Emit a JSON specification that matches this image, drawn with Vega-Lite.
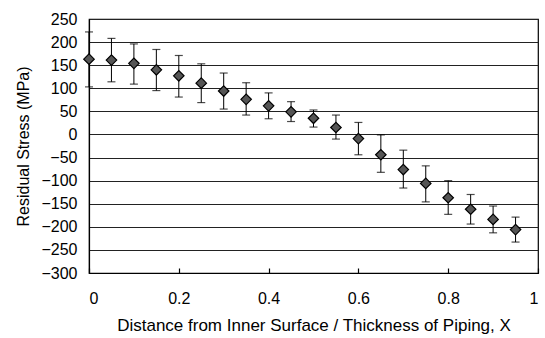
{
  "$schema": "https://vega.github.io/schema/vega-lite/v6.json",
  "autosize": {"type": "none"},
  "padding": {"left": 89, "top": 19, "right": 7, "bottom": 65},
  "width": 449,
  "height": 254,
  "background": "white",
  "config": {
    "view": {"stroke": "black", "strokeWidth": 1.2},
    "font": "Liberation Sans",
    "axisY": {
      "grid": true, "gridColor": "#222", "gridWidth": 1.1, "gridOpacity": 1,
      "ticks": false, "labelOverlap": false,
      "domainColor": "black", "domainWidth": 1.2,
      "labelPadding": 12, "labelFontSize": 16, "labelColor": "black",
      "labelFont": "Liberation Sans",
      "titleFontSize": 16, "titleFontWeight": "normal", "titleColor": "black",
      "titleFont": "Liberation Sans", "titlePadding": 9
    }
  },
  "data": {
    "values": [
      {"x": 0, "y": 163, "lo": 103, "hi": 222},
      {"x": 0.05, "y": 161, "lo": 114, "hi": 208},
      {"x": 0.1, "y": 154, "lo": 109, "hi": 196},
      {"x": 0.15, "y": 140, "lo": 95, "hi": 184},
      {"x": 0.2, "y": 127, "lo": 81, "hi": 171},
      {"x": 0.25, "y": 111, "lo": 69, "hi": 153},
      {"x": 0.3, "y": 94, "lo": 55, "hi": 133},
      {"x": 0.35, "y": 76, "lo": 42, "hi": 112},
      {"x": 0.4, "y": 62, "lo": 34, "hi": 90},
      {"x": 0.45, "y": 49, "lo": 28, "hi": 71},
      {"x": 0.5, "y": 35, "lo": 16, "hi": 53},
      {"x": 0.55, "y": 15, "lo": -10, "hi": 42},
      {"x": 0.6, "y": -9, "lo": -44, "hi": 26},
      {"x": 0.65, "y": -44, "lo": -82, "hi": -1},
      {"x": 0.7, "y": -76, "lo": -116, "hi": -34},
      {"x": 0.75, "y": -106, "lo": -146, "hi": -68},
      {"x": 0.8, "y": -137, "lo": -173, "hi": -100},
      {"x": 0.85, "y": -162, "lo": -194, "hi": -130},
      {"x": 0.9, "y": -184, "lo": -213, "hi": -155},
      {"x": 0.95, "y": -206, "lo": -233, "hi": -179}
    ]
  },
  "encoding": {
    "x": {
      "field": "x", "type": "quantitative",
      "scale": {"domain": [0, 1], "nice": false, "zero": false},
      "axis": {
        "title": "Distance from Inner Surface /  Thickness of Piping, X",
        "values": [0, 0.2, 0.4, 0.6, 0.8, 1],
        "format": "~g",
        "grid": false, "labelOverlap": false,
        "domainColor": "black", "domainWidth": 1.2,
        "tickColor": "black", "tickSize": -5, "tickWidth": 1.2,
        "labelPadding": 22, "labelFontSize": 16, "labelColor": "black",
        "labelFont": "Liberation Sans",
        "titleFontSize": 17, "titleFontWeight": "normal", "titleColor": "black",
        "titleFont": "Liberation Sans", "titlePadding": 11
      }
    }
  },
  "layer": [
    {
      "mark": {"type": "rule", "color": "black", "strokeWidth": 1},
      "encoding": {
        "y": {
          "field": "lo", "type": "quantitative",
          "scale": {"domain": [-300, 250], "nice": false, "zero": false},
          "axis": {
            "title": "Residual Stress (MPa)",
            "values": [-300, -250, -200, -150, -100, -50, 0, 50, 100, 150, 200, 250]
          }
        },
        "y2": {"field": "hi"}
      }
    },
    {
      "mark": {"type": "tick", "orient": "horizontal", "color": "black", "size": 8, "thickness": 1.2},
      "encoding": {"y": {"field": "lo", "type": "quantitative", "axis": {
            "title": "Residual Stress (MPa)",
            "values": [-300, -250, -200, -150, -100, -50, 0, 50, 100, 150, 200, 250]
          }}}
    },
    {
      "mark": {"type": "tick", "orient": "horizontal", "color": "black", "size": 8, "thickness": 1.2},
      "encoding": {"y": {"field": "hi", "type": "quantitative", "axis": {
            "title": "Residual Stress (MPa)",
            "values": [-300, -250, -200, -150, -100, -50, 0, 50, 100, 150, 200, 250]
          }}}
    },
    {
      "mark": {"type": "point", "shape": "diamond", "filled": true, "fill": "#555", "stroke": "black", "strokeWidth": 1.2, "size": 110, "opacity": 1},
      "encoding": {"y": {"field": "y", "type": "quantitative", "axis": {
            "title": "Residual Stress (MPa)",
            "values": [-300, -250, -200, -150, -100, -50, 0, 50, 100, 150, 200, 250]
          }}}
    }
  ]
}
